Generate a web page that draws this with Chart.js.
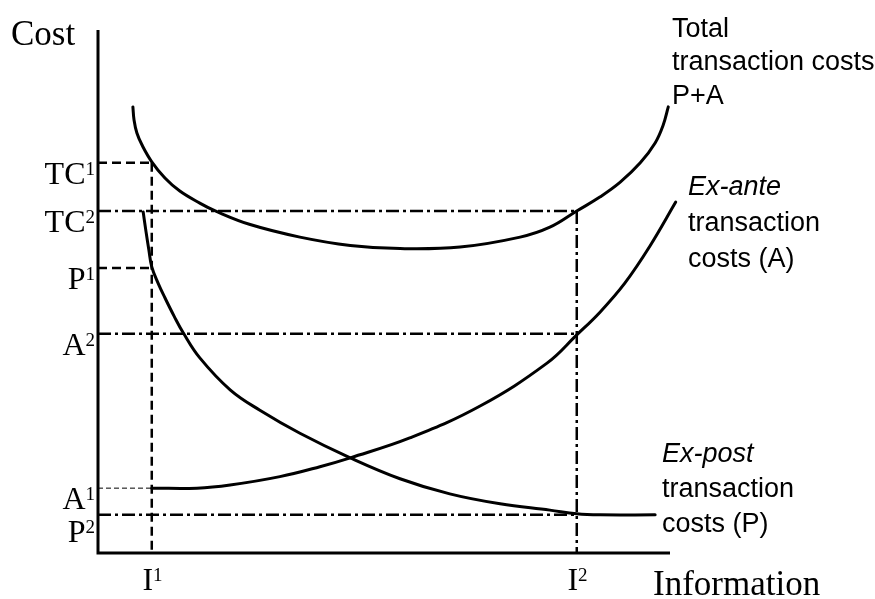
<!DOCTYPE html>
<html>
<head>
<meta charset="utf-8">
<script src="https://cdn.jsdelivr.net/npm/chart.js@4.4.1/dist/chart.umd.min.js"></script>
<style>
  body { margin: 0; background: #fff; }
  #wrap { width: 875px; height: 599px; }
</style>
</head>
<body>
<div id="wrap"><canvas id="chart" width="875" height="599"></canvas></div>
<script>
// Curves: information (x) vs cost (y), both on a 0-100 scale
const totalX = [6.1, 6.3, 6.8, 7.7, 9.4, 11.7, 14.3, 17.8, 20.5, 26.6, 35.3, 44.1, 52.8, 63.3, 73.8, 79.0, 83.7, 87.8, 91.3, 94.8, 97.4, 98.8, 99.7];
const totalY = [85.3, 82.8, 80.3, 78.0, 74.8, 71.7, 69.2, 66.9, 65.4, 62.8, 60.4, 58.8, 58.2, 58.5, 60.4, 62.3, 65.4, 68.1, 70.9, 74.6, 78.4, 81.8, 85.3];

const exPostX = [7.9, 8.4, 8.9, 9.4, 10.5, 11.7, 13.3, 14.9, 17.8, 23.1, 28.3, 35.3, 44.1, 52.8, 61.5, 70.3, 79.0, 83.7, 87.8, 97.4];
const exPostY = [65.2, 61.4, 57.9, 54.7, 51.6, 48.8, 45.3, 42.1, 37.3, 31.2, 27.3, 22.9, 18.2, 14.2, 11.3, 9.4, 8.2, 7.5, 7.3, 7.3];

const exAnteX = [9.4, 17.3, 23.1, 31.8, 38.8, 44.1, 54.5, 66.8, 78.5, 83.7, 87.8, 92.1, 96.5, 101.0];
const exAnteY = [12.4, 12.4, 13.0, 14.6, 16.5, 18.2, 22.0, 28.1, 36.3, 41.7, 46.1, 51.6, 58.7, 67.1];

// Marked levels on the cost axis (TC1, TC2, P1, A2, A1, P2)
const costTickNames = ['TC', 'TC', 'P', 'A', 'A', 'P'];
const costTickSups = ['1', '2', '1', '2', '1', '2'];
const costTickValues = [74.6, 65.4, 54.5, 41.9, 12.4, 7.3];

// Marked levels on the information axis (I1, I2)
const infoTickNames = ['I', 'I'];
const infoTickSups = ['1', '2'];
const infoTickValues = [9.4, 83.7];

const [TC1, TC2, P1, A2, A1, P2] = costTickValues;
const [I1, I2] = infoTickValues;

const pts = (xs, ys) => xs.map((x, i) => ({ x, y: ys[i] }));

const DASH = [9, 5];
const DASHDOT = [13, 4, 3, 4];

function guide(xs, ys, dash, width) {
  return {
    data: pts(xs, ys),
    showLine: true,
    borderColor: '#000',
    borderWidth: width || 2.5,
    borderDash: dash,
    pointRadius: 0,
    clip: false
  };
}

function curve(xs, ys) {
  return {
    data: pts(xs, ys),
    showLine: true,
    borderColor: '#000',
    borderWidth: 3,
    pointRadius: 0,
    tension: 0.4,
    borderCapStyle: 'round',
    borderJoinStyle: 'round',
    clip: false
  };
}

// Axes, tick labels and curve captions
const labelsPlugin = {
  id: 'labels',
  afterDraw(chart) {
    const ctx = chart.ctx;
    const xs = chart.scales.x;
    const ys = chart.scales.y;
    const x0 = xs.getPixelForValue(0);
    const y0 = ys.getPixelForValue(0);
    ctx.save();

    // axes
    ctx.strokeStyle = '#000';
    ctx.lineWidth = 3;
    ctx.beginPath();
    ctx.moveTo(x0, ys.getPixelForValue(100));
    ctx.lineTo(x0, y0);
    ctx.lineTo(xs.getPixelForValue(100), y0);
    ctx.stroke();

    ctx.fillStyle = '#000';
    ctx.textBaseline = 'alphabetic';
    const serif = '"Liberation Serif", "Times New Roman", serif';
    const sans = '"Liberation Sans", Arial, sans-serif';

    function supLabel(name, sup, x, baseline, alignRight) {
      ctx.font = '32px ' + serif;
      const w1 = ctx.measureText(name).width;
      ctx.font = '19px ' + serif;
      const w2 = ctx.measureText(sup).width;
      const left = alignRight ? x - w1 - w2 : x;
      ctx.textAlign = 'left';
      ctx.font = '32px ' + serif;
      ctx.fillText(name, left, baseline);
      ctx.font = '19px ' + serif;
      ctx.fillText(sup, left + w1, baseline - 9);
    }

    // cost levels (P2 sits a little lower under its line)
    costTickValues.forEach((v, i) => {
      const extra = i === 5 ? 27 : 21;
      supLabel(costTickNames[i], costTickSups[i], x0 - 3, ys.getPixelForValue(v) + extra, true);
    });

    // information levels
    infoTickValues.forEach((v, i) => {
      ctx.font = '32px ' + serif;
      const w = ctx.measureText(infoTickNames[i]).width;
      supLabel(infoTickNames[i], infoTickSups[i], xs.getPixelForValue(v) - w / 2 - 4, y0 + 37, false);
    });

    // axis titles
    ctx.textAlign = 'left';
    ctx.font = '35px ' + serif;
    ctx.fillText('Cost', 11, 45);
    ctx.fillText('Information', 653, 595);

    // curve captions
    ctx.font = '27px ' + sans;
    ctx.fillText('Total', 672, 37);
    ctx.fillText('transaction costs', 672, 70);
    ctx.fillText('P+A', 672, 104);

    ctx.font = 'italic 27px ' + sans;
    ctx.fillText('Ex-ante', 688, 195);
    ctx.font = '27px ' + sans;
    ctx.fillText('transaction', 688, 231);
    ctx.fillText('costs (A)', 688, 267);

    ctx.font = 'italic 27px ' + sans;
    ctx.fillText('Ex-post', 662, 462);
    ctx.font = '27px ' + sans;
    ctx.fillText('transaction', 662, 497);
    ctx.fillText('costs (P)', 662, 532);

    ctx.restore();
  }
};

new Chart(document.getElementById('chart'), {
  type: 'scatter',
  data: {
    datasets: [
      guide([0, I1], [TC1, TC1], DASH),
      guide([I1, I1], [TC1, 0], DASH),
      guide([0, I1], [P1, P1], DASH),
      guide([0, I1], [A1, A1], [5, 3], 1),
      guide([0, I2], [TC2, TC2], DASHDOT),
      guide([0, I2], [A2, A2], DASHDOT),
      guide([0, I2], [P2, P2], DASHDOT),
      guide([I2, I2], [TC2, 0], DASHDOT),
      curve(totalX, totalY),
      curve(exPostX, exPostY),
      curve(exAnteX, exAnteY)
    ]
  },
  options: {
    responsive: false,
    animation: false,
    devicePixelRatio: 1,
    layout: { padding: { left: 98, right: 205, top: 30, bottom: 46 } },
    plugins: { legend: { display: false }, tooltip: { enabled: false } },
    scales: {
      x: { type: 'linear', min: 0, max: 100, display: false },
      y: { type: 'linear', min: 0, max: 100, display: false }
    }
  },
  plugins: [labelsPlugin]
});
</script>
</body>
</html>
